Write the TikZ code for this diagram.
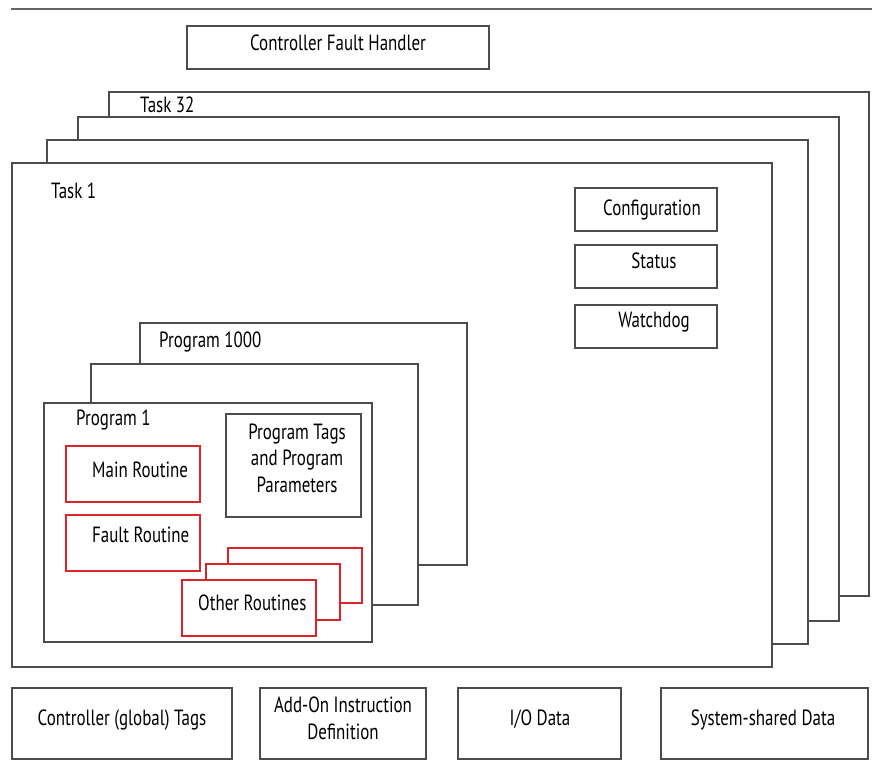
\documentclass[tikz,border=0pt]{standalone}
\usepackage{fontspec}
\setmainfont{PT Sans}[FakeStretch=0.77]
\definecolor{routinered}{RGB}{218,37,42}
\tikzset{
  frame/.style={draw=black!70, line width=1.2pt, fill=white},
  redframe/.style={draw=routinered, line width=1.2pt, fill=white},
  txt/.style={font=\fontsize{22}{26.5}\selectfont, inner sep=0pt},
}
\begin{document}
\begin{tikzpicture}[x=1pt, y=-1pt]
  \useasboundingbox (0,0) rectangle (872,763);
  \draw[black!60, line width=1.2pt] (11,9) -- (872,9);
  % controller fault handler
  \draw[frame] (187,26) rectangle (489,69);
  \node[txt, anchor=base] (cfh) at (338,50) {Controller Fault Handler};
  % tasks, back to front
  \draw[frame] (109,92) rectangle (869,596);
  \draw[frame] (78,117) rectangle (839,621);
  \draw[frame] (47,140) rectangle (808,644);
  \draw[frame] (12,163) rectangle (772,667);
  \node[txt, anchor=base west] (task32) at (140,112) {Task 32};
  \node[txt, anchor=base west] (task1) at (51,198) {Task 1};
  \draw[frame] (575,188) rectangle (717,231);
  \draw[frame] (575,245) rectangle (717,288);
  \draw[frame] (575,305) rectangle (717,348);
  \node[txt, anchor=base] (config) at (652,215) {Configuration};
  \node[txt, anchor=base] (status) at (654,268) {Status};
  \node[txt, anchor=base] (watchdog) at (654,327) {Watchdog};
  % programs
  \draw[frame] (140,323) rectangle (467,565);
  \draw[frame] (91,364) rectangle (418,605);
  \draw[frame] (44,403) rectangle (372,642);
  \node[txt, anchor=base west] (prog1000) at (159,347) {Program 1000};
  \node[txt, anchor=base west] (prog1) at (76,425) {Program 1};
  \draw[frame] (226,414) rectangle (361,517);
  \node[txt, anchor=base, align=center] (tags) at (297,492)
    {Program Tags\\and Program\\Parameters};
  % routines
  \draw[redframe] (66,446) rectangle (200,502);
  \draw[redframe] (66,515) rectangle (200,571);
  \draw[redframe] (228,548) rectangle (362,603);
  \draw[redframe] (206,564) rectangle (340,620);
  \draw[redframe] (182,580) rectangle (316,636);
  \node[txt, anchor=base west] (mainr) at (92,477) {Main Routine};
  \node[txt, anchor=base west] (faultr) at (92,542) {Fault Routine};
  \node[txt, anchor=base west] (otherr) at (198,610) {Other Routines};
  % shared data
  \draw[frame] (12,688) rectangle (232,759);
  \draw[frame] (260,688) rectangle (426,759);
  \draw[frame] (458,688) rectangle (621,759);
  \draw[frame] (661,688) rectangle (868,759);
  \node[txt, anchor=base] (gtags) at (122,725) {Controller (global) Tags};
  \node[txt, anchor=base, align=center] (aoi) at (343,739) {Add-On Instruction\\Definition};
  \node[txt, anchor=base] (iodata) at (540,725) {I/O Data};
  \node[txt, anchor=base] (sysdata) at (763,725) {System-shared Data};
\end{tikzpicture}
\end{document}
